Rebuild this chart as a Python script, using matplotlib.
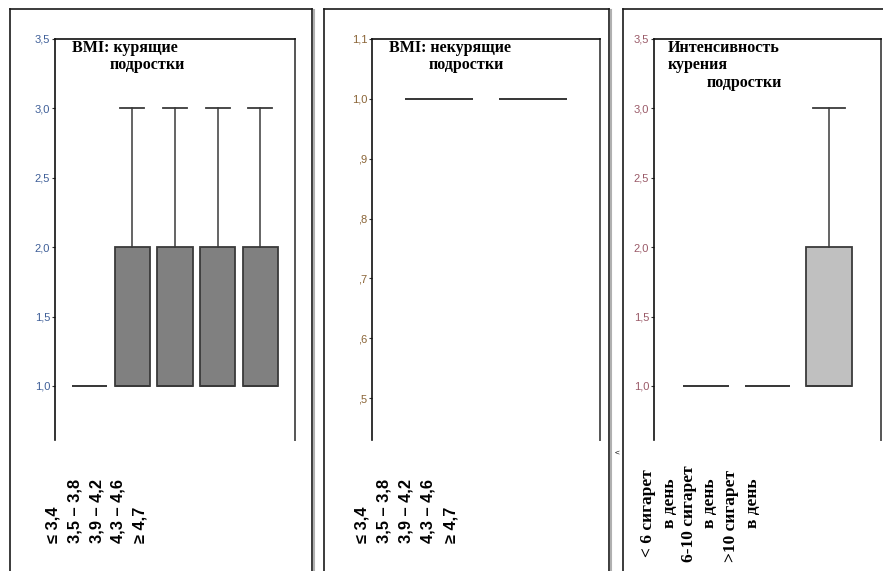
import matplotlib
matplotlib.use("Agg")
import matplotlib.pyplot as plt
from matplotlib import font_manager
from matplotlib.lines import Line2D

W, H = 883, 571

# ---- data -------------------------------------------------------------
bmi_groups = ["≤ 3,4", "3,5 – 3,8", "3,9 – 4,2", "4,3 – 4,6", "≥ 4,7"]

smokers_q1 = [1.0, 1.0, 1.0, 1.0, 1.0]
smokers_med = [1.0, 1.0, 1.0, 1.0, 1.0]
smokers_q3 = [1.0, 2.0, 2.0, 2.0, 2.0]
smokers_lo = [1.0, 1.0, 1.0, 1.0, 1.0]
smokers_hi = [1.0, 3.0, 3.0, 3.0, 3.0]

nonsmokers_q1 = [1.0, 1.0]
nonsmokers_med = [1.0, 1.0]
nonsmokers_q3 = [1.0, 1.0]
nonsmokers_lo = [1.0, 1.0]
nonsmokers_hi = [1.0, 1.0]

intensity_groups = ["< 6 сигарет\nв день", "6-10 сигарет\nв день", ">10 сигарет\nв день"]
intensity_q1 = [1.0, 1.0, 1.0]
intensity_med = [1.0, 1.0, 1.0]
intensity_q3 = [1.0, 1.0, 2.0]
intensity_lo = [1.0, 1.0, 1.0]
intensity_hi = [1.0, 1.0, 3.0]

ticks_main = [1.0, 1.5, 2.0, 2.5, 3.0, 3.5]
ticks_main_lbl = ["1,0", "1,5", "2,0", "2,5", "3,0", "3,5"]
ticks_non = [0.5, 0.6, 0.7, 0.8, 0.9, 1.0, 1.1]
ticks_non_lbl = [",5", ",6", ",7", ",8", ",9", "1,0", "1,1"]

# ---- fonts ------------------------------------------------------------
installed = {f.name for f in font_manager.fontManager.ttflist}
narrow = "Liberation Sans Narrow" if "Liberation Sans Narrow" in installed else "Liberation Sans"
serif = "Liberation Serif"
sans = "Liberation Sans"

fig = plt.figure(figsize=(W / 100, H / 100), dpi=100)
fig.patch.set_facecolor("white")


def fx(x):
    return x / W


def fy(y):
    return 1 - y / H


def axes_px(left, top, right, bottom):
    return fig.add_axes([fx(left), fy(bottom), (right - left) / W, (bottom - top) / H])


def frame(left, top, right):
    # outer panel frame, open at the bottom of the sheet
    for xs, ys, c, lw in [
        ([left, left], [H + 5, top], "#1a1a1a", 1.2),
        ([left, right], [top, top], "#1a1a1a", 1.2),
        ([right, right], [top, H + 5], "#1a1a1a", 1.2),
        ([right + 1.5, right + 1.5], [top + 1, H + 5], "#b0b0b0", 1.5),
    ]:
        fig.add_artist(Line2D([fx(v) for v in xs], [fy(v) for v in ys],
                              transform=fig.transFigure, color=c, lw=lw))


frame(10, 9, 312)
frame(324, 9, 609)
frame(623, 9, 892)


def stats(q1, med, q3, lo, hi):
    return [dict(q1=a, med=b, q3=c, whislo=d, whishi=e, fliers=[])
            for a, b, c, d, e in zip(q1, med, q3, lo, hi)]


def style_axes(ax, ylim, ticks, labels, tick_color, xlim):
    ax.set_xlim(*xlim)
    ax.set_ylim(*ylim)
    ax.spines["bottom"].set_visible(False)
    for s in ("left", "top"):
        ax.spines[s].set_color("#111111")
        ax.spines[s].set_linewidth(1.2)
    ax.spines["right"].set_color("#555555")
    ax.spines["right"].set_linewidth(1.4)
    ax.set_xticks([])
    ax.set_yticks(ticks)
    ax.set_yticklabels(labels, fontfamily=narrow, fontsize=8, color=tick_color)
    ax.tick_params(axis="y", length=2.5, width=0.8, color="#333333", pad=1)


def draw_boxes(ax, st, width, cap, face):
    ax.bxp(st, positions=list(range(1, len(st) + 1)), widths=width,
           capwidths=cap, showfliers=False, patch_artist=True,
           boxprops=dict(facecolor=face, edgecolor="#3a3a3a", linewidth=1.3),
           whiskerprops=dict(color="#3a3a3a", linewidth=1.1),
           capprops=dict(color="#3a3a3a", linewidth=1.3),
           medianprops=dict(color="#3a3a3a", linewidth=1.3))


# ---- panel 1: smokers by BMI ------------------------------------------
ax1 = axes_px(55, 39, 295, 440)
draw_boxes(ax1, stats(smokers_q1, smokers_med, smokers_q3, smokers_lo, smokers_hi),
           0.82, 0.56, "#808080")
style_axes(ax1, (0.61, 3.5), ticks_main, ticks_main_lbl, "#3f5f98", (0.19, 5.81))
fig.text(fx(72), fy(52), "BMI: курящие", fontfamily=serif, fontweight="bold",
         fontsize=11.5, va="baseline", ha="left")
fig.text(fx(110), fy(69), "подростки", fontfamily=serif, fontweight="bold",
         fontsize=11.5, va="baseline", ha="left")
for lbl, x in zip(bmi_groups, [53, 75, 97, 118, 140]):
    fig.text(fx(x), fy(543), lbl, rotation=90, ha="center", va="bottom",
             fontfamily=sans, fontweight="bold", fontsize=11.8)

# ---- panel 2: non-smokers by BMI --------------------------------------
ax2 = axes_px(372, 39, 600, 440)
draw_boxes(ax2, stats(nonsmokers_q1, nonsmokers_med, nonsmokers_q3,
                      nonsmokers_lo, nonsmokers_hi), 0.73, 0.5, "#808080")
style_axes(ax2, (0.43, 1.1), ticks_non, ticks_non_lbl, "#8a6436", (0.28, 2.72))
fig.text(fx(389), fy(52), "BMI: некурящие", fontfamily=serif, fontweight="bold",
         fontsize=11.5, va="baseline", ha="left")
fig.text(fx(429), fy(69), "подростки", fontfamily=serif, fontweight="bold",
         fontsize=11.5, va="baseline", ha="left")
for lbl, x in zip(bmi_groups, [362, 384, 406, 428, 451]):
    fig.text(fx(x), fy(543), lbl, rotation=90, ha="center", va="bottom",
             fontfamily=sans, fontweight="bold", fontsize=11.8)
fig.text(fx(617), fy(453), "<", fontfamily=sans, fontsize=6, ha="center", va="center")

# ---- panel 3: smoking intensity ---------------------------------------
ax3 = axes_px(654, 39, 881, 440)
draw_boxes(ax3, stats(intensity_q1, intensity_med, intensity_q3,
                      intensity_lo, intensity_hi), 0.74, 0.52, "#c0c0c0")
style_axes(ax3, (0.61, 3.5), ticks_main, ticks_main_lbl, "#9a5a68", (0.16, 3.84))
fig.text(fx(668), fy(52), "Интенсивность", fontfamily=serif, fontweight="bold",
         fontsize=11.5, va="baseline", ha="left")
fig.text(fx(668), fy(69), "курения", fontfamily=serif, fontweight="bold",
         fontsize=11.5, va="baseline", ha="left")
fig.text(fx(707), fy(87), "подростки", fontfamily=serif, fontweight="bold",
         fontsize=11.5, va="baseline", ha="left")
label_cols = [(648, 557), (670, 528), (689, 562), (710, 528), (731, 562), (753, 528)]
parts = [p for g in intensity_groups for p in g.split("\n")]
for txt, (x, yb) in zip(parts, label_cols):
    fig.text(fx(x), fy(yb), txt, rotation=90, ha="center", va="bottom",
             fontfamily=serif, fontweight="bold", fontsize=12.5)

fig.savefig("out.png", dpi=100, facecolor="white")
